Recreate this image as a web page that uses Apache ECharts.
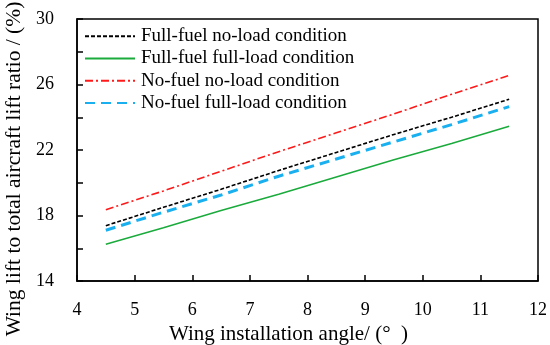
<!DOCTYPE html>
<html>
<head>
<meta charset="utf-8">
<script src="https://cdn.jsdelivr.net/npm/echarts@6/dist/echarts.min.js"></script>
<style>html,body{margin:0;padding:0;background:#fff}#c{width:550px;height:345px}</style>
</head>
<body>
<div id="c"></div>
<script>
const angles = [4.5, 5.5, 6.5, 7.5, 8.5, 9.5, 10.5, 11.5];
const fullFuelNoLoad = [17.38, 18.5, 19.6, 20.75, 21.85, 22.95, 24.0, 25.1];
const fullFuelFullLoad = [16.24, 17.25, 18.3, 19.3, 20.35, 21.4, 22.4, 23.45];
const noFuelNoLoad = [18.35, 19.5, 20.7, 21.9, 23.05, 24.2, 25.4, 26.55];
const noFuelFullLoad = [17.1, 18.2, 19.25, 20.4, 21.45, 22.5, 23.55, 24.65];
const seriesNames = ['Full-fuel no-load condition', 'Full-fuel full-load condition', 'No-fuel no-load condition', 'No-fuel full-load condition'];
const yLabels = [14, 18, 22, 26, 30];

const font = 'Liberation Serif';
const pair = arr => angles.map((a, i) => [a, arr[i]]);
const mk = (name, data, color, width, type) => ({
  name, type: 'line', data: pair(data), showSymbol: false, symbol: 'none', animation: false,
  lineStyle: { color, width, type }, itemStyle: { color }
});

const chart = echarts.init(document.getElementById('c'), null, { renderer: 'canvas' });
chart.setOption({
  animation: false,
  grid: { left: 77, right: 12, top: 19, bottom: 64, show: true, borderColor: '#000', borderWidth: 1.5,
    backgroundColor: 'transparent', containLabel: false, outerBoundsMode: 'none' },
  legend: {
    left: 84, top: 25, padding: 0, orient: 'vertical', itemWidth: 50, itemHeight: 14, itemGap: 0,
    itemStyle: { opacity: 0 },
    textStyle: { fontFamily: font, fontSize: 19, color: '#000', lineHeight: 22.3, padding: [0, 0, 0, 1] },
    data: seriesNames
  },
  xAxis: {
    type: 'value', min: 4, max: 12, interval: 1,
    name: 'Wing installation angle/ (°  )', nameLocation: 'middle', nameGap: 35,
    nameTextStyle: { fontFamily: font, fontSize: 21, color: '#000', padding: [0, 38, 0, 0] },
    axisLine: { show: true, lineStyle: { color: '#000', width: 1.5 } },
    axisTick: { show: true, inside: true, length: 6, lineStyle: { color: '#000', width: 1.5 } },
    axisLabel: { fontFamily: font, fontSize: 18, color: '#000', margin: 20 },
    splitLine: { show: false }
  },
  yAxis: {
    type: 'value', min: 14, max: 30, interval: 2,
    name: 'Wing lift to total aircraft lift ratio / (%)', nameLocation: 'middle', nameGap: 46,
    nameTextStyle: { fontFamily: font, fontSize: 21.5, color: '#000', padding: [0, 38, 0, 0] },
    axisLine: { show: true, lineStyle: { color: '#000', width: 1.5 } },
    axisTick: { show: true, inside: true, length: 6, lineStyle: { color: '#000', width: 1.5 } },
    axisLabel: { fontFamily: font, fontSize: 18, color: '#000', margin: 23,
      formatter: v => yLabels.includes(v) ? String(v) : '' },
    splitLine: { show: false }
  },
  series: [
    mk(seriesNames[0], fullFuelNoLoad, '#000000', 1.6, [4, 2]),
    mk(seriesNames[1], fullFuelFullLoad, '#1aab3c', 1.5, 'solid'),
    mk(seriesNames[2], noFuelNoLoad, '#ff1a1a', 1.6, [8, 3, 2, 3]),
    mk(seriesNames[3], noFuelFullLoad, '#1ab0f0', 3, [10, 6])
  ]
});
</script>
</body>
</html>
